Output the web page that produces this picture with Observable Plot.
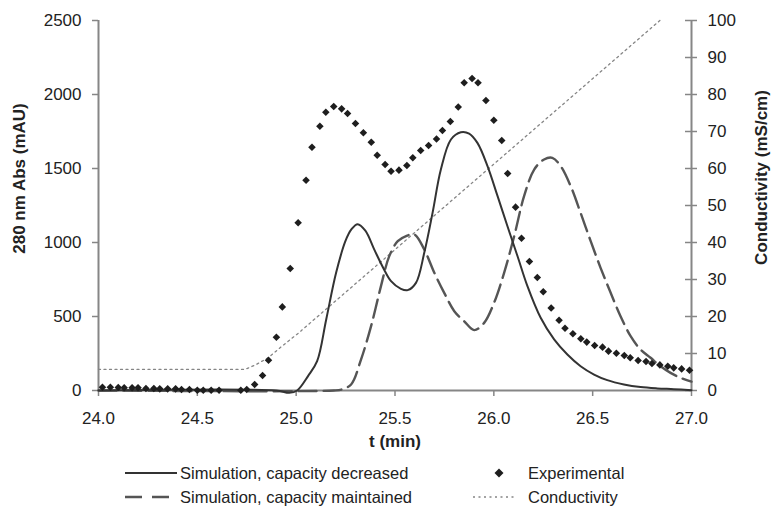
<!DOCTYPE html>
<html>
<head>
<meta charset="utf-8">
<script src="https://cdn.jsdelivr.net/npm/d3@7"></script>
<script src="https://cdn.jsdelivr.net/npm/@observablehq/plot@0.6"></script>
<style>
  html, body { margin: 0; padding: 0; background: #fff; }
  #wrap { position: relative; width: 771px; height: 509px; font-family: "Liberation Sans", Arial, sans-serif; color: #222; }
  #legend { position: relative; width: 771px; height: 54px; }
  .lg { position: absolute; font-size: 16.5px; line-height: 20px; white-space: nowrap; }
  .sw { position: absolute; }
</style>
</head>
<body>
<div id="wrap">
  <div id="chart"></div>
  <div id="legend"></div>
</div>
<script>
// ---- data ----
const expT = [24.02,24.06,24.10,24.13,24.17,24.20,24.24,24.28,24.31,24.35,24.39,24.42,24.46,24.50,24.53,24.57,24.61,
  24.72,24.75,24.79,24.83,24.86,24.90,24.93,24.97,25.01,25.05,25.08,25.12,25.15,25.19,25.23,25.26,25.30,25.34,25.38,25.41,
  25.45,25.48,25.52,25.56,25.59,25.63,25.67,25.71,25.74,25.78,25.82,25.85,25.89,25.92,25.96,26.00,26.04,26.07,26.11,26.14,
  26.18,26.22,26.25,26.29,26.33,26.36,26.40,26.44,26.47,26.51,26.55,26.58,26.62,26.66,26.69,26.73,26.77,26.80,26.84,26.88,
  26.91,26.95,26.99];
const expV = [22,22,20,18,18,18,13,13,11,11,11,7,7,2,2,2,2,
  2,7,40,101,205,360,565,824,1133,1421,1644,1786,1880,1919,1903,1872,1804,1741,1678,1590,
  1527,1482,1489,1520,1572,1621,1655,1700,1757,1817,1916,2079,2108,2079,1959,1826,1689,1466,1239,1029,
  872,763,667,558,475,421,383,349,327,304,293,266,252,236,221,203,196,182,173,164,
  153,146,137];

const decT = [24.0,24.9,24.965,25.005,25.06,25.106,25.152,25.202,25.249,25.28,25.311,25.35,25.396,25.44,25.48,25.53,25.564,
  25.606,25.648,25.69,25.732,25.783,25.833,25.875,25.917,25.968,26.019,26.069,26.12,26.17,26.237,26.305,26.372,26.439,
  26.507,26.574,26.658,26.742,26.827,26.911,27.0];
const decV = [0,0,-15,0,97,198,480,795,1009,1090,1124,1080,950,830,739,687,678,
  727,930,1200,1493,1696,1745,1736,1673,1516,1313,1110,907,705,491,345,243,164,
  108,70,41,23,14,9,2];

const mainT = [24.0,25.19,25.23,25.278,25.328,25.379,25.429,25.471,25.514,25.556,25.598,25.648,25.699,25.749,25.8,25.85,
  25.901,25.951,26.001,26.052,26.103,26.153,26.204,26.254,26.296,26.338,26.389,26.439,26.49,26.54,26.591,26.641,26.692,
  26.742,26.793,26.843,26.894,26.944,27.0];
const mainV = [0,0,7,41,209,435,705,908,1009,1043,1054,953,795,660,536,468,
  408,457,592,795,1043,1313,1493,1561,1572,1516,1380,1200,1009,829,660,502,367,
  277,221,164,119,86,60];

const condT = [24.0,24.74,24.79,24.857,24.924,25.009,26.84];
const condV = [5.7,5.7,6.8,8.8,11.8,15.4,100];

const xTicks = [24.0,24.5,25.0,25.5,26.0,26.5,27.0];
const yTicks = [0,500,1000,1500,2000,2500];
const condTicks = [0,10,20,30,40,50,60,70,80,90,100];

const xLabel = "t (min)";
const yLabel = "280 nm Abs (mAU)";
const y2Label = "Conductivity (mS/cm)";
const legendItems = ["Simulation, capacity decreased","Simulation, capacity maintained","Experimental","Conductivity"];

// ---- build ----
const ratio = 2500 / 100; // conductivity -> left scale
const exp = expT.map((t,i)=>({t, v: expV[i]}));
const dec = decT.map((t,i)=>({t, v: decV[i]}));
const mnt = mainT.map((t,i)=>({t, v: mainV[i]}));
const cond = condT.map((t,i)=>({t, v: condV[i]*ratio}));

const axisColor = "#868686";

const chart = Plot.plot({
  width: 771,
  height: 455,
  marginLeft: 98,
  marginRight: 80,
  marginTop: 20,
  marginBottom: 65,
  style: {fontFamily: '"Liberation Sans", Arial, sans-serif', fontSize: "17px", color: "#222", background: "#fff", overflow: "visible"},
  x: {domain: [24, 27]},
  y: {domain: [0, 2500]},
  marks: [
    Plot.axisX({ticks: xTicks, tickFormat: d3.format(".1f"), tickSize: 6, tickPadding: 15, label: null, stroke: axisColor, strokeWidth: 1.5, fontSize: 17, fill: "#222"}),
    Plot.axisY({ticks: yTicks, tickFormat: d3.format("d"), tickSize: 6, tickPadding: 11, label: null, stroke: axisColor, strokeWidth: 1.5, fontSize: 17, fill: "#222"}),
    Plot.axisY({anchor: "right", ticks: condTicks.map(v => v*ratio), tickFormat: d => d3.format("d")(Math.round(d/ratio)), tickSize: 0, tickPadding: 16, label: null, fontSize: 17, fill: "#222"}),
    Plot.ruleY(condTicks, {y: d => d*ratio, x1: 27, x2: 27, insetLeft: -6, insetRight: -6, stroke: axisColor, strokeWidth: 1.5}),
    Plot.ruleY([0], {stroke: axisColor, strokeWidth: 2}),
    Plot.ruleX([24], {stroke: axisColor, strokeWidth: 2}),
    Plot.ruleX([27], {stroke: axisColor, strokeWidth: 2}),
    Plot.line(cond, {x: "t", y: "v", stroke: "#858585", strokeWidth: 1.3, strokeDasharray: "2,3.5"}),
    Plot.line(mnt, {x: "t", y: "v", stroke: "#555", strokeWidth: 2.4, strokeDasharray: "18,7", curve: "catmull-rom"}),
    Plot.line(dec, {x: "t", y: "v", stroke: "#333", strokeWidth: 2, curve: "catmull-rom"}),
    Plot.dot(exp, {x: "t", y: "v", symbol: "diamond2", r: 3.4, fill: "#1e1e1e", stroke: "none"}),
    Plot.text([xLabel], {frameAnchor: "bottom", dy: 56, fontWeight: "bold", fontSize: 17, fill: "#222"}),
    Plot.text([yLabel], {frameAnchor: "left", textAnchor: "middle", dx: -79, dy: -27, rotate: -90, fontWeight: "bold", fontSize: 17, fill: "#222"}),
    Plot.text([y2Label], {frameAnchor: "right", textAnchor: "middle", dx: 70, dy: -28, rotate: -90, fontWeight: "bold", fontSize: 17, fill: "#222"})
  ]
});
document.getElementById("chart").appendChild(chart);

// ---- legend ----
const lg = document.getElementById("legend");
function addSwatch(left, top, w, h, svgInner) {
  const s = document.createElementNS("http://www.w3.org/2000/svg", "svg");
  s.setAttribute("width", w); s.setAttribute("height", h);
  s.setAttribute("class", "sw");
  s.style.left = left + "px"; s.style.top = top + "px";
  s.innerHTML = svgInner;
  lg.appendChild(s);
}
function addText(left, cy, txt) {
  const d = document.createElement("div");
  d.className = "lg";
  d.style.left = left + "px";
  d.style.top = (cy - 10) + "px";
  d.textContent = txt;
  lg.appendChild(d);
}
const r1 = 18, r2 = 42;
addSwatch(125, r1 - 5, 52, 10, '<line x1="0" y1="5" x2="52" y2="5" stroke="#333" stroke-width="2"/>');
addText(180, r1, legendItems[0]);
addSwatch(125, r2 - 5, 52, 10, '<line x1="0" y1="5" x2="52" y2="5" stroke="#555" stroke-width="2.6" stroke-dasharray="17,10"/>');
addText(180, r2, legendItems[1]);
addSwatch(493, r1 - 6, 12, 12, '<path d="M6,1.5L10.5,6L6,10.5L1.5,6Z" fill="#1e1e1e"/>');
addText(528, r1, legendItems[2]);
addSwatch(473, r2 - 5, 44, 10, '<line x1="0" y1="5" x2="44" y2="5" stroke="#858585" stroke-width="1.3" stroke-dasharray="2,3.5"/>');
addText(528, r2, legendItems[3]);
</script>
</body>
</html>
